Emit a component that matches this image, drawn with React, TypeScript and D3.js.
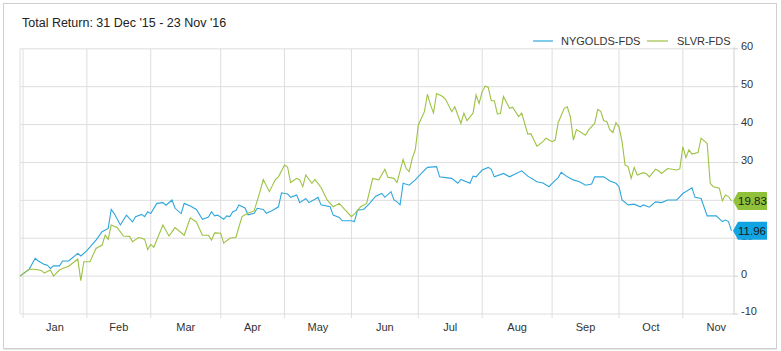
import React from "react";
import * as d3 from "d3";

// business-day index (0 = 31 Dec '15) -> total return %
const nygolds: [number, number][] = [
  [0, 0], [3, 1.8], [5, 4.7], [6, 4.0], [8, 3.1], [9, 2.9], [10, 2.0], [11, 2.7],
  [13, 2.7], [14, 4.0], [16, 4.0], [19, 6.0], [20, 5.3], [22, 6.7], [25, 9.5],
  [27, 11.7], [29, 12.6], [30, 17.6], [31, 16.5], [33, 13.5], [35, 16.1], [37, 14.3],
  [38, 15.7], [40, 16.3], [41, 15.7], [42, 17.0], [43, 16.5], [45, 19.2], [47, 19.4],
  [48, 18.7], [50, 20.1], [51, 17.9], [53, 16.5], [54, 19.2], [56, 18.5], [58, 17.6],
  [60, 15.0], [62, 15.6], [63, 17.0], [64, 15.9], [65, 16.1], [67, 15.0], [68, 15.9],
  [69, 15.7], [70, 17.0], [71, 17.3], [72, 18.8], [74, 18.0], [75, 16.2], [77, 16.6],
  [78, 17.9], [80, 17.6], [81, 16.6], [83, 17.3], [85, 18.3], [86, 22.0], [88, 21.7],
  [89, 20.8], [91, 21.4], [92, 19.4], [94, 20.5], [95, 19.4], [97, 20.3], [98, 20.8],
  [99, 18.8], [102, 18.3], [103, 16.1], [105, 15.5], [106, 14.6], [109, 14.6],
  [110, 14.4], [111, 17.4], [113, 17.6], [115, 19.2], [117, 21.1], [119, 21.8],
  [120, 20.8], [122, 22.3], [123, 20.1], [124, 19.6], [125, 18.8], [126, 24.5],
  [128, 24.0], [130, 25.4], [132, 27.1], [134, 28.7], [137, 28.9], [138, 26.2],
  [140, 26.0], [142, 25.8], [144, 24.5], [145, 25.5], [148, 24.5], [149, 26.4],
  [150, 26.2], [152, 28.0], [154, 28.7], [155, 28.2], [156, 26.2], [159, 27.1],
  [161, 26.2], [165, 27.8], [167, 26.4], [170, 24.9], [172, 24.6], [174, 23.6],
  [175, 24.5], [177, 26.0], [178, 27.4], [180, 26.2], [182, 25.4], [184, 24.9],
  [186, 24.0], [188, 24.3], [189, 26.2], [192, 26.2], [194, 25.1], [196, 24.5],
  [197, 23.6], [198, 20.1], [200, 18.8], [202, 19.0], [204, 18.3], [205, 18.8],
  [207, 18.2], [209, 19.6], [211, 19.4], [213, 20.1], [216, 20.1], [218, 21.8],
  [221, 23.3], [222, 20.8], [224, 20.5], [226, 15.9], [229, 15.9], [231, 14.4],
  [232, 14.8], [233, 14.4], [234, 11.96],
];

const slvr: [number, number][] = [
  [0, 0], [3, 1.8], [5, 1.8], [7, 1.5], [8, 0.8], [10, 1.6], [11, 0], [13, 1.6],
  [14, 2.0], [16, 2.6], [19, 4.5], [20, -1.2], [21, 3.8], [23, 3.8], [25, 7.3],
  [27, 8.2], [28, 10.8], [29, 9.7], [30, 13.5], [32, 12.8], [34, 10.6], [36, 10.5],
  [37, 9.1], [39, 10.2], [40, 10.0], [41, 9.7], [42, 7.0], [43, 8.4], [44, 7.6],
  [47, 13.5], [49, 10.6], [51, 12.8], [54, 10.8], [56, 15.4], [58, 14.3], [60, 10.8],
  [62, 10.8], [63, 9.5], [64, 11.4], [66, 11.3], [67, 8.7], [69, 10.0], [71, 10.2],
  [73, 15.7], [75, 16.6], [77, 17.2], [79, 22.5], [80, 25.5], [82, 22.3], [84, 25.5],
  [85, 26.2], [87, 29.3], [88, 28.8], [89, 24.7], [91, 25.8], [92, 25.4], [93, 23.6],
  [94, 26.7], [96, 24.5], [97, 25.5], [99, 23.4], [101, 20.1], [103, 18.3],
  [105, 19.2], [107, 17.4], [109, 15.7], [110, 16.4], [112, 18.3], [114, 19.2],
  [116, 25.8], [118, 25.4], [120, 28.2], [121, 26.1], [123, 25.8], [124, 24.7],
  [126, 30.8], [127, 28.4], [128, 27.6], [129, 31.1], [130, 33.3], [131, 39.9],
  [133, 43.4], [134, 48.0], [135, 45.2], [136, 43.1], [137, 48.2], [139, 47.4],
  [140, 46.6], [142, 43.4], [143, 44.7], [145, 40.3], [146, 43.0], [147, 41.0],
  [149, 43.0], [150, 47.8], [151, 45.6], [152, 48.7], [153, 50.2], [154, 49.8],
  [155, 46.3], [156, 46.3], [157, 42.8], [158, 42.9], [159, 47.4], [161, 44.3],
  [162, 44.6], [164, 42.1], [165, 43.0], [167, 37.5], [168, 37.6], [170, 34.3],
  [172, 35.5], [173, 36.4], [175, 35.5], [176, 35.9], [177, 40.5], [179, 44.3],
  [180, 44.7], [181, 42.1], [182, 35.9], [183, 38.7], [186, 37.2], [187, 38.6],
  [189, 40.3], [190, 44.0], [191, 43.5], [192, 41.0], [193, 40.8], [194, 38.6],
  [195, 37.9], [196, 40.5], [197, 39.4], [198, 35.5], [199, 29.3], [200, 28.9],
  [201, 25.8], [202, 28.7], [203, 26.7], [205, 27.3], [206, 27.0], [207, 26.2],
  [209, 28.2], [210, 27.8], [211, 27.1], [213, 28.4], [216, 28.0], [217, 28.3],
  [218, 34.2], [219, 31.3], [220, 33.3], [221, 32.2], [223, 32.6], [224, 36.4],
  [226, 35.0], [227, 24.5], [228, 23.6], [230, 23.2], [231, 19.9], [232, 21.4],
  [233, 21.0], [234, 19.83],
];

const seriesNames = ["NYGOLDS-FDS", "SLVR-FDS"];
const seriesColors = ["#2fa6dd", "#9dc243"];
const labelColors = ["#12a3e3", "#8fc23a"];
const monthLabels = ["Jan", "Feb", "Mar", "Apr", "May", "Jun", "Jul", "Aug", "Sep", "Oct", "Nov"];
const yTicks = [-10, 0, 10, 20, 30, 40, 50, 60];
const title = "Total Return: 31 Dec '15 - 23 Nov '16";

// business days from 31 Dec 2015 through 1 Dec 2016
const bizDays = d3
  .timeDay.range(new Date(2015, 11, 31), new Date(2016, 11, 2))
  .filter((d) => d.getDay() !== 0 && d.getDay() !== 6);
const monthStarts: number[] = [];
bizDays.forEach((d, i) => {
  if (i > 0 && d.getMonth() !== bizDays[i - 1].getMonth()) monthStarts.push(i);
});

export default function App() {
  const width = 781;
  const height = 351;
  const plotLeft = 20;
  const plotRight = 734;
  const plotTop = 48.8;
  const plotBottom = 314;

  const x = d3.scaleLinear().domain([0, 234]).range([plotLeft, 731.5]);
  const y = d3.scaleLinear().domain([-10, 60]).range([plotBottom, plotTop]);

  const line = d3
    .line<[number, number]>()
    .x((d) => x(d[0]))
    .y((d) => y(d[1]));

  const font = "'Liberation Sans', Arial, sans-serif";
  const series = [nygolds, slvr];

  return (
    <svg
      width={width}
      height={height}
      style={{ position: "absolute", left: 0, top: 0, display: "block", background: "#fff" }}
      fontFamily={font}
    >
      <rect x={3.5} y={3.5} width={773} height={345} fill="#fff" stroke="#cfcfcf" />
      <line x1={4} y1={349.5} x2={777} y2={349.5} stroke="#e6e6e6" />

      <text x={22} y={27} fontSize={12.5} fill="#222">
        {title}
      </text>

      {/* grid */}
      {yTicks.map((t) => (
        <g key={t}>
          <line x1={plotLeft} x2={plotRight} y1={y(t)} y2={y(t)} stroke="#dedede" />
          <line x1={plotRight} x2={plotRight + 4} y1={y(t)} y2={y(t)} stroke="#cfcfcf" />
          <text x={741} y={y(t) - 1.5} fontSize={11} fill="#333" dominantBaseline="middle">
            {t}
          </text>
        </g>
      ))}
      <line x1={plotLeft} x2={plotLeft} y1={plotTop} y2={plotBottom} stroke="#dedede" />
      <line x1={plotRight} x2={plotRight} y1={plotTop - 2} y2={plotBottom + 1} stroke="#cfcfcf" />
      {monthStarts.slice(0, 11).map((m) => (
        <line key={m} x1={x(m)} x2={x(m)} y1={plotTop} y2={plotBottom + 4} stroke="#dedede" />
      ))}
      {monthLabels.map((label, i) => (
        <text
          key={label}
          x={(x(monthStarts[i]) + x(monthStarts[i + 1])) / 2}
          y={331}
          fontSize={11}
          fill="#333"
          textAnchor="middle"
        >
          {label}
        </text>
      ))}

      {/* lines */}
      {series.map((s, i) => (
        <path key={i} d={line(s) || ""} fill="none" stroke={seriesColors[i]} strokeWidth={1.1} />
      ))}

      {/* end labels */}
      {series.map((s, i) => {
        const last = s[s.length - 1];
        const cy = y(last[1]);
        const x0 = 733;
        const w = 34;
        const h = 18;
        return (
          <g key={i}>
            <path
              d={`M${x0 + 5},${cy - h / 2} L${x0 + w},${cy - h / 2} L${x0 + w},${cy + h / 2} L${x0 + 5},${cy + h / 2} L${x0},${cy} Z`}
              fill={labelColors[i]}
            />
            <text x={x0 + 5} y={cy + 4} fontSize={11.5} fill="#1a1a1a">
              {last[1].toFixed(2)}
            </text>
          </g>
        );
      })}

      {/* legend */}
      <line x1={533} x2={553} y1={41} y2={41} stroke={seriesColors[0]} strokeWidth={1.2} />
      <text x={561} y={45} fontSize={11} fill="#333">
        {seriesNames[0]}
      </text>
      <line x1={647} x2={668} y1={41} y2={41} stroke={seriesColors[1]} strokeWidth={1.2} />
      <text x={677} y={45} fontSize={11} fill="#333">
        {seriesNames[1]}
      </text>
    </svg>
  );
}
